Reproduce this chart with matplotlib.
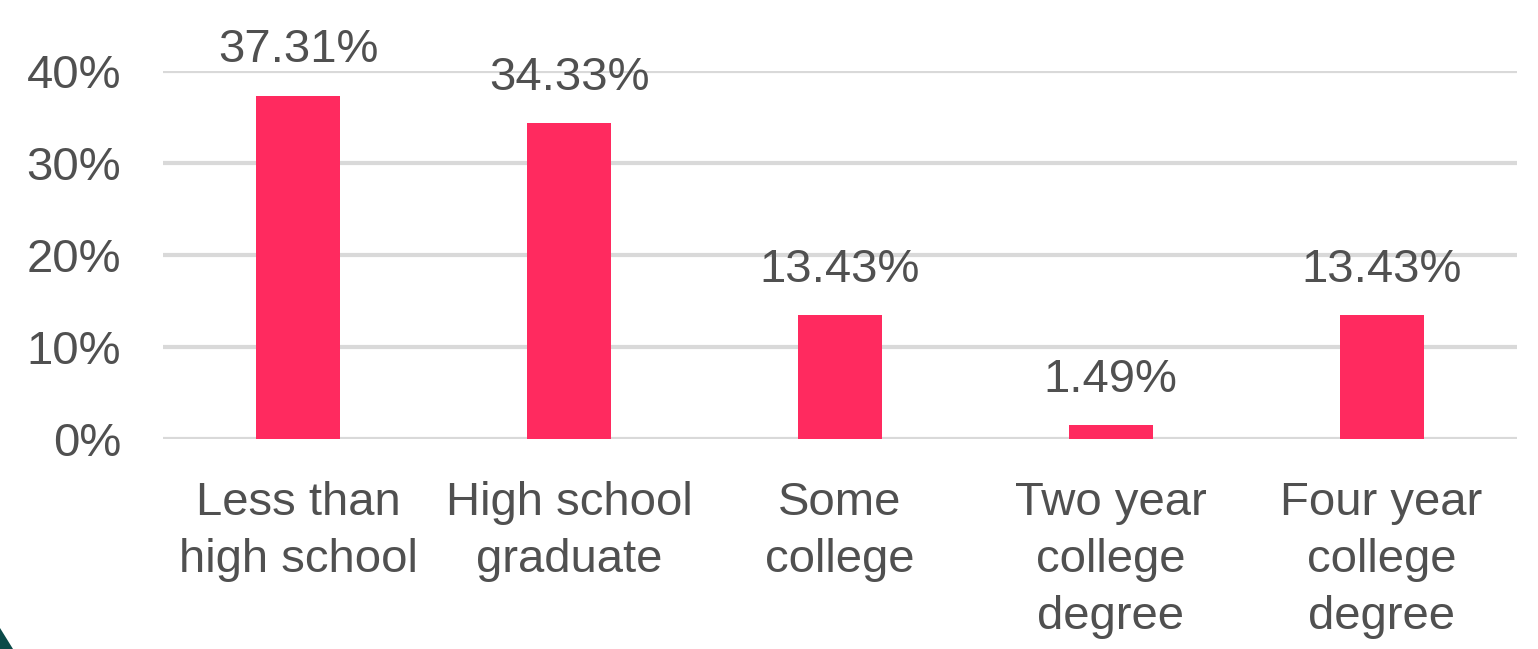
import matplotlib.pyplot as plt
from matplotlib.patches import Polygon
from matplotlib.ticker import FuncFormatter

# Datos del gráfico
categorias = ['Less than\nhigh school', 'High school\ngraduate', 'Some\ncollege',
              'Two year\ncollege\ndegree', 'Four year\ncollege\ndegree']
valores = [37.31, 34.33, 13.43, 1.49, 13.43]
ticks_y = [0, 10, 20, 30, 40]

plt.rcParams['font.family'] = ['Liberation Sans', 'DejaVu Sans']
texto = '#505050'

fig = plt.figure(figsize=(15.38, 6.49), dpi=100)
ax = fig.add_axes([163 / 1538, 1 - 439 / 649, (1517 - 163) / 1538, (439 - 71) / 649])

x = range(len(categorias))
bars = ax.bar(x, valores, width=0.31, color='#ff2a5f', zorder=3)

# Etiquetas encima de cada barra
for bar, v in zip(bars, valores):
    ax.annotate(f'{v:.2f}%', (bar.get_x() + bar.get_width() / 2, v),
                xytext=(0, 24), textcoords='offset points', ha='center', va='baseline',
                fontsize=34, color=texto, annotation_clip=False)

ax.set_xlim(-0.5, len(categorias) - 0.5)
ax.set_ylim(0, 40)
ax.set_yticks(ticks_y)
ax.yaxis.set_major_formatter(FuncFormatter(lambda v, p: f'{v:.0f}%'))
ax.set_xticks(list(x))
ax.set_xticklabels(categorias, linespacing=1.38)

ax.grid(axis='y', color='#d9d9d9', linewidth=3, zorder=0)
ax.tick_params(axis='both', length=0, labelsize=34, colors=texto)
ax.tick_params(axis='y', pad=30)
ax.tick_params(axis='x', pad=30)
for s in ax.spines.values():
    s.set_visible(False)

# Esquina verde oscuro abajo a la izquierda
fig.patches.append(Polygon([(0, 1 - 628 / 649), (13 / 1538, 0), (0, 0)],
                           closed=True, transform=fig.transFigure,
                           facecolor='#0b4a48', edgecolor='none'))

fig.savefig('out.png', dpi=100)
